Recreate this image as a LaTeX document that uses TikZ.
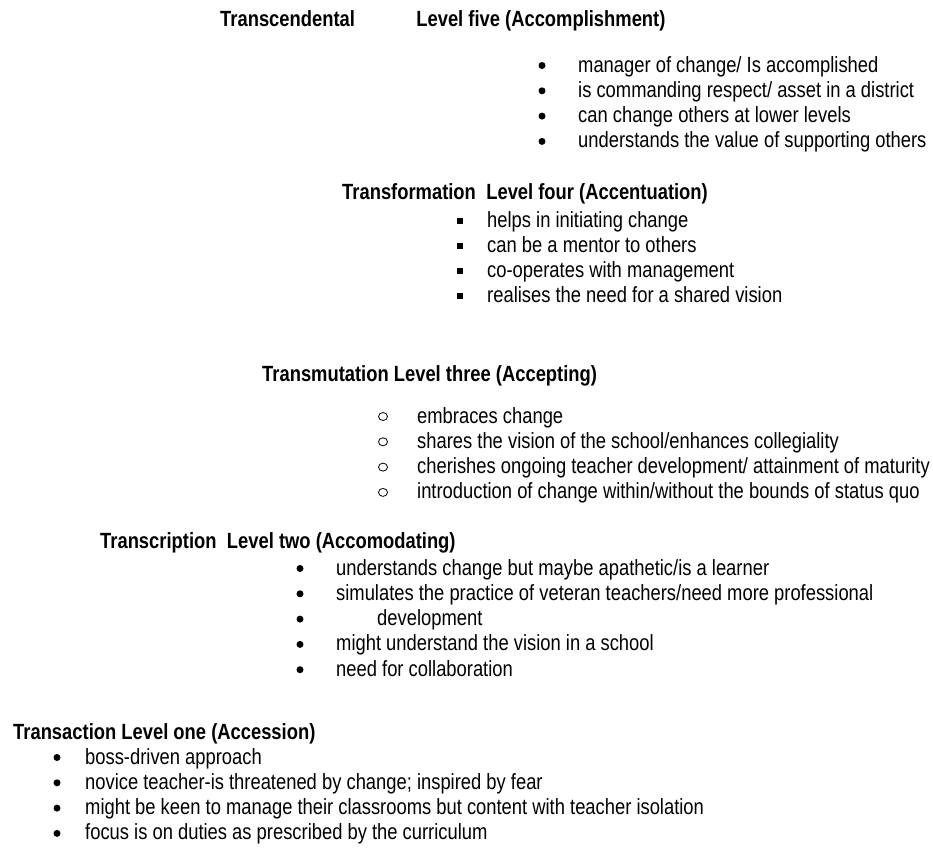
\documentclass[tikz,border=0pt]{standalone}
\usepackage{fontspec}
\setmainfont[FakeStretch=0.835]{Liberation Sans}
\usetikzlibrary{positioning,shapes.geometric}

\begin{document}
\begin{tikzpicture}[x=1pt,y=-1pt,
    txt/.style={inner sep=0pt,anchor=base west,font=\fontsize{22}{25}\selectfont},
    head/.style={txt,font=\fontsize{22}{25}\selectfont\bfseries},
    dot/.style={circle,fill=black,inner sep=0pt,minimum size=7pt},
    sq/.style={rectangle,fill=black,inner sep=0pt,minimum size=6pt},
    ring/.style={ellipse,draw=black,line width=0.8pt,inner sep=0pt,minimum width=9pt,minimum height=8pt}]

  \useasboundingbox (0,0) rectangle (933,851);

  % Level five
  \node[head] (t5) at (220,27) {Transcendental};
  \node[head,base right=61pt of t5] (h5) {Level five (Accomplishment)};
  \foreach \txt [count=\k] in {manager of change/ Is accomplished,
      is commanding respect/ asset in a district,
      can change others at lower levels,
      understands the value of supporting others}{
    \node[txt] (i5-\k) at (578,46.7+25.3*\k) {\txt};
    \node[dot] (b5-\k) at (542,40.2+25.3*\k) {};
  }

  % Level four
  \node[head] (t4) at (342,199) {Transformation};
  \node[head,base right=10pt of t4] (h4) {Level four (Accentuation)};
  \foreach \txt [count=\k] in {helps in initiating change,
      can be a mentor to others,
      co-operates with management,
      realises the need for a shared vision}{
    \node[txt] (i4-\k) at (487,201.7+25.3*\k) {\txt};
    \node[sq] (b4-\k) at (460,195.2+25.3*\k) {};
  }

  % Level three
  \node[head] (h3) at (262,381) {Transmutation Level three (Accepting)};
  \foreach \txt [count=\k] in {embraces change,
      shares the vision of the school/enhances collegiality,
      cherishes ongoing teacher development/ attainment of maturity,
      introduction of change within/without the bounds of status quo}{
    \node[txt] (i3-\k) at (417,397.7+25.3*\k) {\txt};
    \node[ring] (b3-\k) at (383,391.2+25.3*\k) {};
  }

  % Level two
  \node[head] (t2) at (100,548) {Transcription};
  \node[head,base right=10pt of t2] (h2) {Level two (Accomodating)};
  \foreach \txt [count=\k] in {understands change but maybe apathetic/is a learner,
      simulates the practice of veteran teachers/need more professional,
      {\hspace*{41pt}development},
      might understand the vision in a school,
      need for collaboration}{
    \node[txt] (i2-\k) at (336,549.7+25.3*\k) {\txt};
    \node[dot] (b2-\k) at (300,543.2+25.3*\k) {};
  }

  % Level one
  \node[head] (h1) at (13,739) {Transaction Level one (Accession)};
  \foreach \txt [count=\k] in {boss-driven approach,
      novice teacher-is threatened by change; inspired by fear,
      might be keen to manage their classrooms but content with teacher isolation,
      focus is on duties as prescribed by the curriculum}{
    \node[txt] (i1-\k) at (85,738.7+25.3*\k) {\txt};
    \node[dot] (b1-\k) at (57,732.2+25.3*\k) {};
  }

\end{tikzpicture}
\end{document}
